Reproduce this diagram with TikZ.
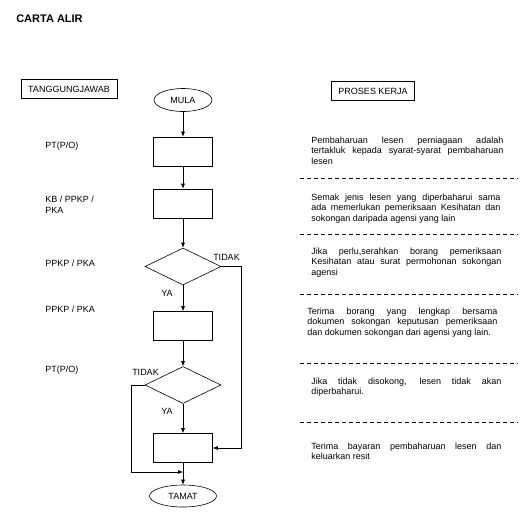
\documentclass[tikz,border=0pt]{standalone}
\usepackage{fontspec}
\setmainfont{Liberation Sans}
\usetikzlibrary{shapes.geometric,arrows.meta}
\tolerance=10000
\hbadness=10000
\hyphenpenalty=10000
\exhyphenpenalty=10000
\tikzset{
  kotak/.style={draw, minimum width=59pt, minimum height=29pt, inner sep=0pt},
  pilihan/.style={draw, diamond, minimum width=76pt, minimum height=37pt, inner sep=0pt},
  hujung/.style={draw, ellipse, minimum width=58pt, minimum height=23pt, inner sep=0pt},
  tajuk/.style={draw, minimum height=19pt, inner xsep=7pt, inner ysep=0pt},
  proses/.style={anchor=north west, inner sep=0pt, align=justify, font=\fontsize{9}{10.5}\selectfont},
  pemisah/.style={dash pattern=on 4pt off 3pt},
  anak/.style={-{Latex[length=5pt,width=4pt]}}
}
\begin{document}
\begin{tikzpicture}[x=1pt, y=-1pt, line width=0.6pt, every node/.style={font=\fontsize{9}{11}\selectfont}]
    \useasboundingbox (0,0) rectangle (530,523);
    \node[anchor=west, inner sep=0pt, font=\fontsize{11}{12}\selectfont\bfseries] (judul) at (16,19) {CARTA ALIR};
    \node[tajuk] (tj) at (69,89) {TANGGUNGJAWAB};
    \node[tajuk] (pk) at (373,91) {PROSES KERJA};

    \node[anchor=west, inner sep=0pt] (pt1)  at (45,146) {PT(P/O)};
    \node[anchor=west, inner sep=0pt, align=left] (kb) at (45,204.5) {KB / PPKP /\\PKA};
    \node[anchor=west, inner sep=0pt] (ppkp1) at (45,263) {PPKP / PKA};
    \node[anchor=west, inner sep=0pt] (ppkp2) at (45,309) {PPKP / PKA};
    \node[anchor=west, inner sep=0pt] (pt2)  at (45,370) {PT(P/O)};

    \node[hujung] (mula) at (183,100) {MULA};
    \node[kotak] (k1) at (183,151.5) {};
    \node[kotak] (k2) at (183,203.5) {};
    \node[pilihan] (p1) at (183,266.5) {};
    \node[kotak] (k3) at (183,326) {};
    \node[pilihan] (p2) at (183,385) {};
    \node[kotak] (k4) at (183,448) {};
    \node[hujung, minimum width=67pt, minimum height=22pt] (tamat) at (183,496) {TAMAT};
    \coordinate (sambung) at (183,472);

    \node (tidak1) at (226.5,257) {TIDAK};
    \node (ya1)    at (167,293) {YA};
    \node (tidak2) at (145.5,372) {TIDAK};
    \node (ya2)    at (167,411) {YA};

    \draw[anak] (mula) -- (k1);
    \draw[anak] (k1) -- (k2);
    \draw[anak] (k2) -- (p1);
    \draw[anak] (p1) -- (k3);
    \draw[anak] (k3) -- (p2);
    \draw[anak] (p2) -- (k4);
    \draw[anak] (k4) -- (tamat);
    \draw[anak] (p1.east) -- ++(19.5,0) |- (k4.east);
    \draw[anak] (p2.west) -- ++(-13,0) |- (sambung);

    \node[proses, text width=192pt] (b1) at (311,136.5) {Pembaharuan lesen perniagaan adalah\linebreak tertakluk kepada syarat-syarat pembaharuan\linebreak lesen};
    \node[proses, text width=189pt] (b2) at (311,193.5) {Semak jenis lesen yang diperbaharui sama\linebreak ada memerlukan pemeriksaan Kesihatan dan\linebreak sokongan daripada agensi yang lain};
    \node[proses, text width=190pt] (b3) at (311,247.5) {Jika perlu,serahkan borang pemeriksaan\linebreak Kesihatan atau surat permohonan sokongan\linebreak agensi};
    \node[proses, text width=190pt] (b4) at (307,307.5) {Terima borang yang lengkap bersama\linebreak dokumen sokongan keputusan pemeriksaan\linebreak dan dokumen sokongan dari agensi yang lain.};
    \node[proses, text width=190pt] (b5) at (311,377.5) {Jika tidak disokong, lesen tidak akan\linebreak diperbaharui.};
    \node[proses, text width=190pt] (b6) at (311,442.5) {Terima bayaran pembaharuan lesen dan\linebreak keluarkan resit};

    \draw[pemisah] (300,178) -- (518,178);
    \draw[pemisah] (300,234) -- (518,234);
    \draw[pemisah] (300,294) -- (518,294);
    \draw[pemisah] (300,363) -- (518,363);
    \draw[pemisah] (300,422) -- (518,422);
\end{tikzpicture}
\end{document}
